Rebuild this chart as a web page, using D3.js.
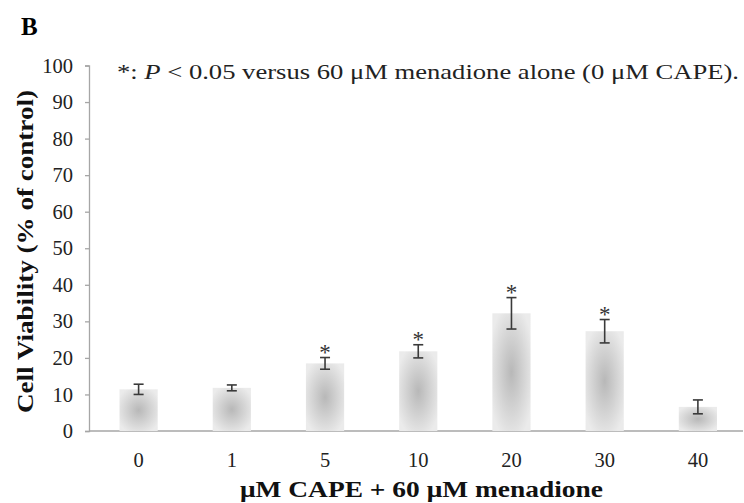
<!DOCTYPE html>
<html>
<head>
<meta charset="utf-8">
<script src="https://cdn.jsdelivr.net/npm/d3@7"></script>
<style>
  body { margin: 0; background: #fff; }
  text { font-family: "Liberation Serif", "Times New Roman", serif; }
</style>
</head>
<body>
<script>
// Data
const doses = ["0", "1", "5", "10", "20", "30", "40"];
const viability = [11.4, 11.8, 18.5, 21.8, 32.2, 27.3, 6.6];
const errors = [1.4, 0.8, 1.6, 1.8, 4.3, 3.2, 1.9];
const significant = [false, false, true, true, true, true, false];
const yTicks = [0, 10, 20, 30, 40, 50, 60, 70, 80, 90, 100];

const width = 744, height = 503;
const margin = { left: 89, right: 0, top: 65.5, bottom: 72 };

const svg = d3.select('body').append('svg')
    .attr('width', width)
    .attr('height', height);

// Bar gradient: darker in the middle, lighter at the edges
const grad = svg.append('defs').append('radialGradient')
    .attr('id', 'barFill')
    .attr('cx', '50%').attr('cy', '50%').attr('r', '60%');
grad.append('stop').attr('offset', '0%').attr('stop-color', '#b8b8b8');
grad.append('stop').attr('offset', '100%').attr('stop-color', '#ebebeb');

const x = d3.scaleBand()
    .domain(doses)
    .range([margin.left + 3, 744.5])
    .paddingInner(0.59)
    .paddingOuter(0.295);

const y = d3.scaleLinear()
    .domain([0, 100])
    .range([431, margin.top]);

// Y axis
const yAxis = svg.append('g')
    .attr('transform', `translate(${margin.left},0)`)
    .call(d3.axisLeft(y).tickValues(yTicks).tickSize(4).tickPadding(12));
yAxis.select('.domain').attr('stroke', '#a6a6a6').attr('stroke-width', 1.3);
yAxis.selectAll('.tick line').attr('stroke', '#a6a6a6').attr('stroke-width', 1.3);
yAxis.selectAll('.tick text')
    .attr('font-size', 20.5)
    .attr('fill', '#222')
    .attr('font-family', '"Liberation Serif", serif');

// X axis (baseline only)
const xAxis = svg.append('g')
    .attr('transform', `translate(0,${y(0)})`)
    .call(d3.axisBottom(x).tickSize(0).tickPadding(21));
xAxis.select('.domain')
    .attr('d', `M${margin.left},0H${width - 1}`)
    .attr('stroke', '#a6a6a6').attr('stroke-width', 1.3);
xAxis.selectAll('.tick text')
    .attr('font-size', 20.5)
    .attr('fill', '#222')
    .attr('font-family', '"Liberation Serif", serif');

// Bars
svg.append('g').selectAll('rect')
    .data(doses)
    .join('rect')
    .attr('x', d => x(d))
    .attr('width', x.bandwidth())
    .attr('y', (d, i) => y(viability[i]))
    .attr('height', (d, i) => y(0) - y(viability[i]))
    .attr('fill', 'url(#barFill)');

// Error bars
const err = svg.append('g')
    .attr('stroke', '#3a3a3a')
    .attr('stroke-width', 1.6);
doses.forEach((d, i) => {
    const cx = x(d) + x.bandwidth() / 2;
    const top = y(viability[i] + errors[i]);
    const bot = y(viability[i] - errors[i]);
    err.append('line').attr('x1', cx).attr('x2', cx).attr('y1', top).attr('y2', bot);
    err.append('line').attr('x1', cx - 5).attr('x2', cx + 5).attr('y1', top).attr('y2', top);
    err.append('line').attr('x1', cx - 5).attr('x2', cx + 5).attr('y1', bot).attr('y2', bot);
});

// Significance stars
svg.append('g').selectAll('text')
    .data(doses.filter((d, i) => significant[i]))
    .join('text')
    .attr('x', d => x(d) + x.bandwidth() / 2)
    .attr('y', d => {
        const i = doses.indexOf(d);
        return y(viability[i] + errors[i]) + 2.5;
    })
    .attr('text-anchor', 'middle')
    .attr('font-size', 23)
    .attr('fill', '#333')
    .text('*');

// Panel label
svg.append('text')
    .attr('x', 21).attr('y', 35)
    .attr('font-size', 25).attr('font-weight', 'bold')
    .text('B');

// Annotation
const note = svg.append('text')
    .attr('x', 117).attr('y', 79)
    .attr('font-size', 21)
    .attr('fill', '#222')
    .attr('textLength', 622)
    .attr('lengthAdjust', 'spacingAndGlyphs');
note.append('tspan').text('*: ');
note.append('tspan').attr('font-style', 'italic').text('P');
note.append('tspan').text(' < 0.05 versus 60 μM menadione alone (0 μM CAPE).');

// Axis titles
svg.append('text')
    .attr('transform', `translate(33,251.5) rotate(-90)`)
    .attr('text-anchor', 'middle')
    .attr('font-size', 24).attr('font-weight', 'bold')
    .attr('fill', '#111')
    .attr('textLength', 323)
    .attr('lengthAdjust', 'spacingAndGlyphs')
    .text('Cell Viability (% of control)');

svg.append('text')
    .attr('x', 421.5).attr('y', 497)
    .attr('text-anchor', 'middle')
    .attr('font-size', 23).attr('font-weight', 'bold')
    .attr('fill', '#111')
    .attr('textLength', 363)
    .attr('lengthAdjust', 'spacingAndGlyphs')
    .text('μM CAPE + 60 μM menadione');
</script>
</body>
</html>
